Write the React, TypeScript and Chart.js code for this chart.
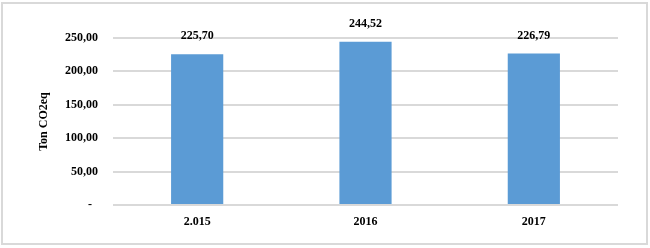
import React, { useEffect, useRef } from "react";
import { Chart, registerables } from "chart.js";

Chart.register(...registerables);

const categories = ["2.015", "2016", "2017"];
const values = [225.7, 244.52, 226.79];
const yTicks = [0, 50, 100, 150, 200, 250];
const yTitle = "Ton CO2eq";

const fmt = (v: number) => (v === 0 ? "-\u00a0\u00a0" : v.toFixed(2).replace(".", ","));
const FONT = "'Liberation Serif', 'Times New Roman', serif";

const labelPlugin = {
  id: "barLabels",
  afterDatasetsDraw(chart: any) {
    const ctx = chart.ctx;
    const meta = chart.getDatasetMeta(0);
    ctx.save();
    ctx.font = `bold 12px ${FONT}`;
    ctx.fillStyle = "#000";
    ctx.textAlign = "center";
    ctx.textBaseline = "middle";
    meta.data.forEach((bar: any, i: number) => {
      ctx.fillText(fmt(values[i]), bar.x, bar.y - 18);
    });
    ctx.restore();
  },
};

export default function App() {
  const ref = useRef<HTMLCanvasElement>(null);
  useEffect(() => {
    document.body.style.margin = "0";
    const chart = new Chart(ref.current!, {
      type: "bar",
      data: {
        labels: categories,
        datasets: [
          {
            data: values,
            backgroundColor: "#5b9bd5",
            categoryPercentage: 1,
            barPercentage: 0.31,
          },
        ],
      },
      options: {
        animation: false,
        responsive: false,
        maintainAspectRatio: false,
        layout: { padding: { top: 38, right: 32, left: 0, bottom: 0 } },
        plugins: { legend: { display: false }, tooltip: { enabled: false } },
        scales: {
          x: {
            grid: { display: false, drawTicks: false },
            border: { display: false },
            ticks: { padding: 10, color: "#000", font: { family: FONT, size: 12, weight: "bold" } },
            afterFit: (s: any) => {
              s.height = 43;
            },
          },
          y: {
            min: 0,
            max: 250,
            afterBuildTicks: (s: any) => {
              s.ticks = yTicks.map((v) => ({ value: v }));
            },
            grid: { color: "#d9d9d9", lineWidth: 2, drawTicks: false },
            border: { display: false },
            ticks: {
              padding: 15,
              color: "#000",
              font: { family: FONT, size: 12, weight: "bold" },
              callback: (v: any) => fmt(Number(v)),
            },
            title: {
              display: true,
              text: yTitle,
              color: "#000",
              font: { family: FONT, size: 12, weight: "bold" },
              padding: { top: 37, bottom: 0 },
            },
            afterFit: (s: any) => {
              s.width = 113;
            },
          },
        },
      },
      plugins: [labelPlugin],
    });
    return () => chart.destroy();
  }, []);
  return (
    <div style={{ position: "relative", width: 650, height: 248 }}>
      <canvas ref={ref} width={650} height={248} style={{ display: "block" }} />
      <div
        style={{
          position: "absolute",
          left: 1,
          top: 2,
          width: 643,
          height: 239,
          border: "2px solid #d9d9d9",
          pointerEvents: "none",
        }}
      />
    </div>
  );
}
